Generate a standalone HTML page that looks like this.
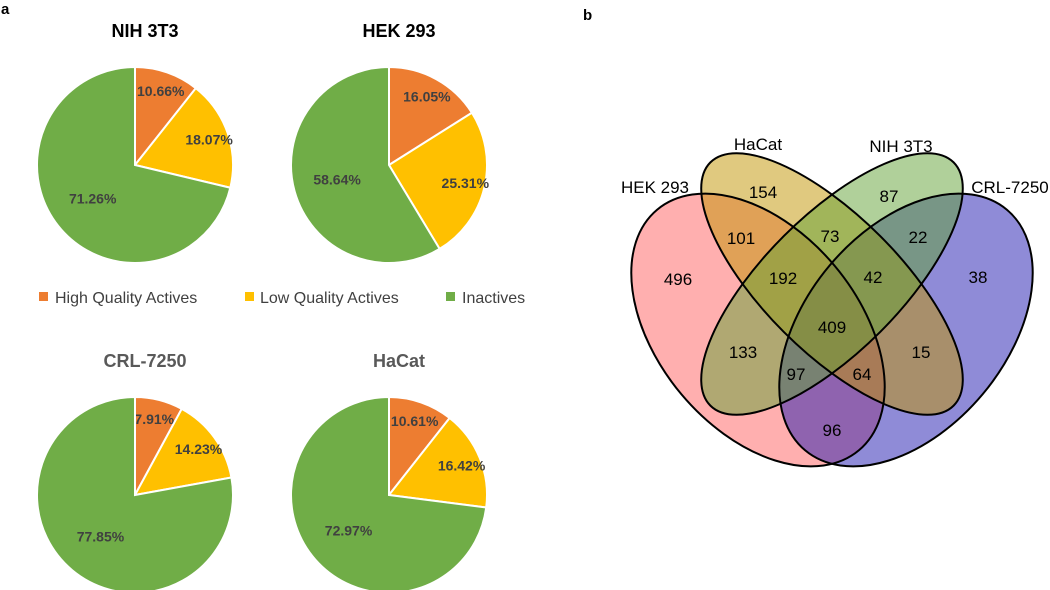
<!DOCTYPE html>
<html><head><meta charset="utf-8"><style>
body{margin:0;background:#fff}
svg{display:block;font-family:"Liberation Sans",sans-serif}
</style></head><body>
<svg width="1050" height="590" viewBox="0 0 1050 590">
<text x="1" y="14" font-size="15" font-weight="bold">a</text>
<text x="583" y="20" font-size="15" font-weight="bold">b</text>
<g id="pies"></g>
<g font-size="16" fill="#404040">
<rect x="39" y="292" width="9" height="9" fill="#ED7D31"/>
<text x="55" y="303">High Quality Actives</text>
<rect x="245" y="292" width="9" height="9" fill="#FFC000"/>
<text x="260" y="303">Low Quality Actives</text>
<rect x="446" y="292" width="9" height="9" fill="#70AD47"/>
<text x="462" y="303">Inactives</text>
</g>
<g id="venn"></g>
</svg>
<script>
const pieTitles=["NIH 3T3","HEK 293","CRL-7250","HaCat"];
const highVals=[10.66,16.05,7.91,10.61];
const lowVals=[18.07,25.31,14.23,16.42];
const inactiveVals=[71.26,58.64,77.85,72.97];
const sliceColors=["#ED7D31","#FFC000","#70AD47"];
const NS="http://www.w3.org/2000/svg";
const pg=document.getElementById('pies');
const centers=[[135,165],[389,165],[135,495],[389,495]];
const R=98;
function mk(t,a){const e=document.createElementNS(NS,t);for(const k in a)e.setAttribute(k,a[k]);return e;}
pieTitles.forEach((title,i)=>{
  const [cx,cy]=centers[i];
  const vals=[highVals[i],lowVals[i],inactiveVals[i]];
  const tot=vals.reduce((a,b)=>a+b,0);
  const t=mk('text',{x:cx+10,y:cy-128,'text-anchor':'middle','font-size':18,'font-weight':'bold',fill:i<2?'#000':'#595959'});
  t.textContent=title;
  
  
  pg.appendChild(t);
  let a0=0;
  vals.forEach((v,j)=>{
    const a1=a0+v/tot*2*Math.PI;
    const x0=cx+R*Math.sin(a0),y0=cy-R*Math.cos(a0),x1=cx+R*Math.sin(a1),y1=cy-R*Math.cos(a1);
    const p=mk('path',{d:`M${cx},${cy}L${x0},${y0}A${R},${R} 0 ${a1-a0>Math.PI?1:0} 1 ${x1},${y1}Z`,fill:sliceColors[j],stroke:'#fff','stroke-width':2});
    
    
    pg.appendChild(p);
    const am=(a0+a1)/2, rf=j==2?0.55:0.8;
    const l=mk('text',{x:cx+rf*R*Math.sin(am),y:cy-rf*R*Math.cos(am)+5,'text-anchor':'middle','font-size':14,'font-weight':'bold',fill:'#404040'});
    l.textContent=v.toFixed(2)+'%';
    
    
    pg.appendChild(l);
    a0=a1;
  });
});
// Venn (draw order: pink, blue, yellow, green)
const vg=document.getElementById('venn');
const ellipses=[[758,330,157,100,50,"#ff6e6e",0.55],[906,330,157,100,-50,"#2018b0",0.5],[832,284,172,68,45,"#c19300",0.5],[832,284,172,68,-45,"#61a135",0.5]];
ellipses.forEach(e=>{
  const el=mk('ellipse',{cx:0,cy:0,rx:e[2],ry:e[3],transform:`translate(${e[0]},${e[1]}) rotate(${e[4]})`,fill:e[5],'fill-opacity':e[6]});
  
  
  vg.appendChild(el);
});
ellipses.forEach(e=>{
  const el=mk('ellipse',{cx:0,cy:0,rx:e[2],ry:e[3],transform:`translate(${e[0]},${e[1]}) rotate(${e[4]})`,fill:'none',stroke:'#000','stroke-width':2});
  
  
  vg.appendChild(el);
});
const setNames=[["HEK 293",655,193],["HaCat",758,150],["NIH 3T3",901,152],["CRL-7250",1010,193]];
setNames.forEach(s=>{
  const t=mk('text',{x:s[1],y:s[2],'text-anchor':'middle','font-size':17,fill:'#000'});
  t.textContent=s[0];
  
  
  vg.appendChild(t);
});
const regionCounts=[154,87,101,73,22,496,192,42,38,409,133,15,97,64,96];
const regionPos=[[763,192],[889,196],[741,238],[830,236],[918,237],[678,279],[783,278],[873,277],[978,277],[832,327],[743,352],[921,352],[796,374],[862,374],[832,430]];
regionCounts.forEach((c,i)=>{
  const t=mk('text',{x:regionPos[i][0],y:regionPos[i][1]+6,'text-anchor':'middle','font-size':17,fill:'#000'});
  t.textContent=c;
  
  
  vg.appendChild(t);
});
</script>
</body></html>
